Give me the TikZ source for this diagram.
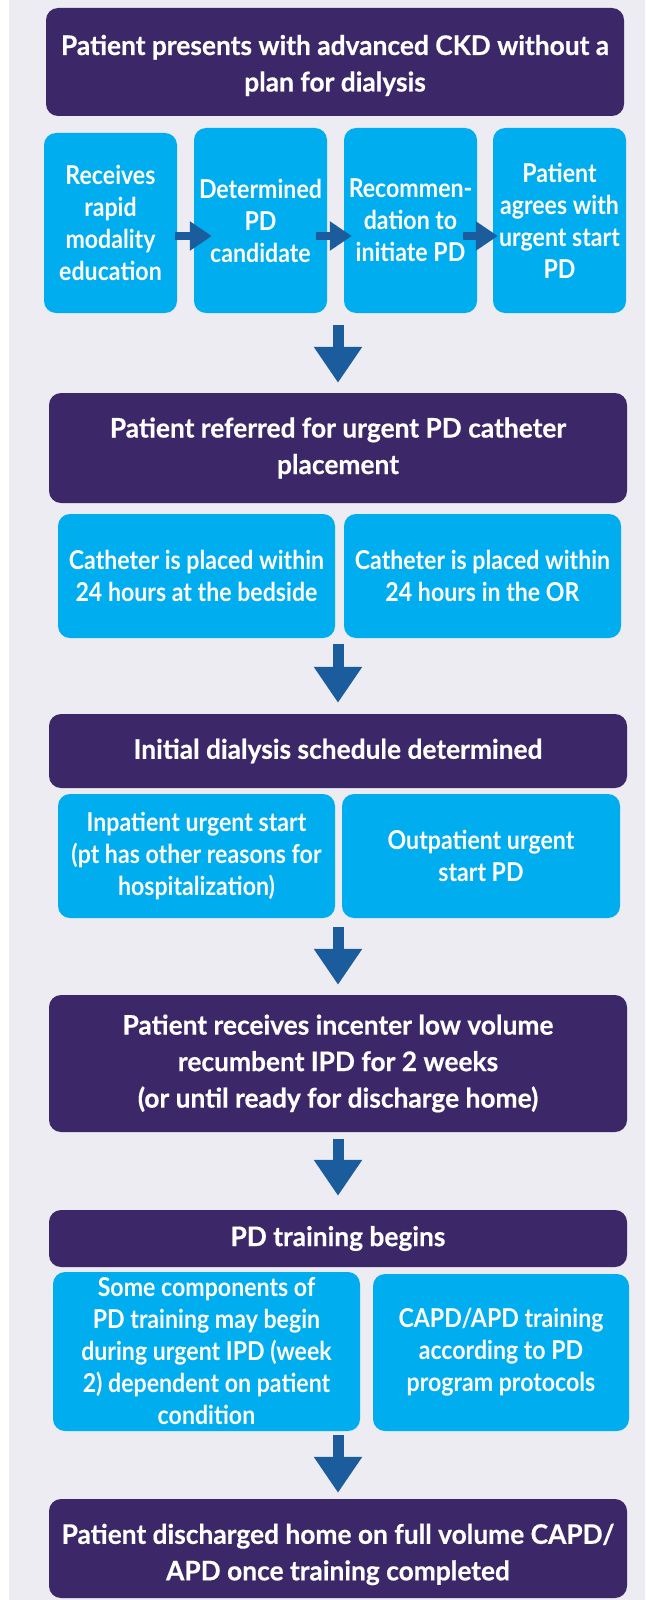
\documentclass[tikz,border=0pt]{standalone}
\usepackage{fontspec}
\usetikzlibrary{arrows.meta,calc}
\newfontfamily\pfont{Lato}[FakeStretch=0.975,FakeBold=0.5]
\newfontfamily\bfont{Lato}[FakeStretch=0.89]
\definecolor{bgc}{HTML}{EDECF2}
\definecolor{purp}{HTML}{3C2868}
\definecolor{cyanb}{HTML}{00ADEE}
\definecolor{arrc}{HTML}{1B5C9C}
\tikzset{
 pbox/.style={fill=purp, rounded corners=12pt, text=white, align=center, inner sep=0pt,
   font=\pfont\bfseries\fontsize{27}{36.5}\selectfont},
 cbox/.style={fill=cyanb, rounded corners=12pt, text=white, align=center, inner sep=0pt,
   font=\bfont\bfseries\fontsize{26}{32}\selectfont},
 harrow/.style={draw=arrc, line width=8pt, -{Triangle[length=22pt,width=28pt]}},
 varrow/.style={draw=arrc, line width=11pt, -{Triangle[length=36pt,width=46pt]}},
}
\begin{document}
\begin{tikzpicture}[x=1pt,y=-1pt]
\useasboundingbox (0,0) rectangle (645,1600);
\fill[white] (0,0) rectangle (9,1600);
\fill[bgc] (9,0) rectangle (645,1600);

\node[pbox, minimum width=578pt, minimum height=108pt] (p1) at (335,62)
  {\rule{0pt}{27pt}Patient presents with advanced CKD without a\\plan for dialysis};
\node[cbox, minimum width=133pt, minimum height=180pt] (b1) at (110.5,223)
  {Receives\\rapid\\modality\\education};
\node[cbox, minimum width=133pt, minimum height=185pt] (b2) at (260.5,220.5)
  {Determined\\PD\\candidate};
\node[cbox, minimum width=133pt, minimum height=185pt] (b3) at (410.5,220.5)
  {Recommen-\\dation to\\initiate PD};
\node[cbox, minimum width=133pt, minimum height=185pt] (b4) at (559.5,220.5)
  {Patient\\agrees with\\urgent start\\PD};

\node[pbox, minimum width=578pt, minimum height=110pt] (p2) at (338,448)
  {Patient referred for urgent PD catheter\\placement};
\node[cbox, minimum width=277pt, minimum height=124pt] (c2a) at (196.5,576)
  {Catheter is placed within\\24 hours at the bedside};
\node[cbox, minimum width=277pt, minimum height=124pt] (c2b) at (482.5,576)
  {Catheter is placed within\\24 hours in the OR};

\node[pbox, minimum width=578pt, minimum height=74pt] (p3) at (338,751)
  {Initial dialysis schedule determined};
\node[cbox, minimum width=277pt, minimum height=124pt] (c3a) at (196.5,856)
  {Inpatient urgent start\\(pt has other reasons for\\hospitalization)};
\node[cbox, minimum width=278pt, minimum height=124pt] (c3b) at (481,856)
  {Outpatient urgent\\start PD};

\node[pbox, minimum width=578pt, minimum height=137pt] (p4) at (338,1063.5)
  {Patient receives incenter low volume\\recumbent IPD for 2 weeks\\(or until ready for discharge home)};

\node[pbox, minimum width=578pt, minimum height=57pt] (p5) at (338,1238.5)
  {PD training begins};
\node[cbox, minimum width=307pt, minimum height=159pt] (c5a) at (206.5,1351.5)
  {Some components of\\PD training may begin\\during urgent IPD (week\\2) dependent on patient\\condition};
\node[cbox, minimum width=256pt, minimum height=157pt] (c5b) at (501,1352.5)
  {CAPD/APD training\\according to PD\\program protocols};

\node[pbox, minimum width=578pt, minimum height=99pt] (p6) at (338,1548.5)
  {\rule{0pt}{32pt}Patient discharged home on full volume CAPD/\\APD once training completed};

% horizontal arrows
\draw[harrow] ($(b1.east |- 0,236)+(-2,0)$) -- ($(b2.west |- 0,236)+(18,0)$);
\draw[harrow] ($(b2.east |- 0,236)+(-11,0)$) -- ($(b3.west |- 0,236)+(8,0)$);
\draw[harrow] ($(b3.east |- 0,236)+(-14,0)$) -- ($(b4.west |- 0,236)+(5,0)$);

% vertical arrows
\draw[varrow] ($(p2.north |- b2.south)+(0,12)$) -- ($(p2.north)+(0,-10)$);
\draw[varrow] ($(p3.north |- c2a.south)+(0,6)$) -- ($(p3.north)+(0,-11)$);
\draw[varrow] ($(p4.north |- c3a.south)+(0,9)$) -- ($(p4.north)+(0,-10)$);
\draw[varrow] ($(p4.south)+(0,7)$) -- ($(p5.north)+(0,-14)$);
\draw[varrow] ($(p6.north |- c5a.south)+(0,4)$) -- ($(p6.north)+(0,-6)$);
\end{tikzpicture}
\end{document}
